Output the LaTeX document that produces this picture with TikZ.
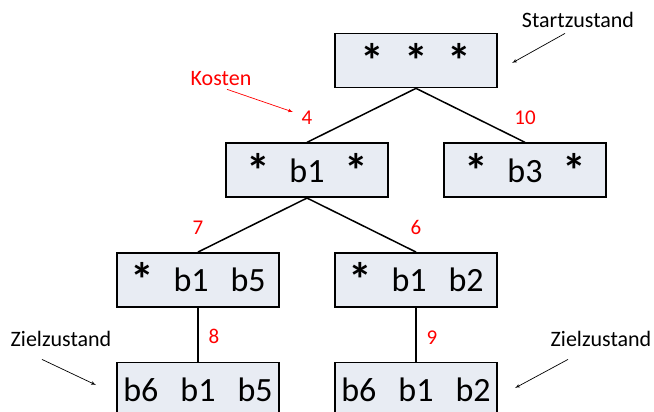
\documentclass[tikz,border=0pt]{standalone}
\usepackage{fontspec}
\setmainfont{Carlito}
\usetikzlibrary{arrows}
\usetikzlibrary{positioning}
\definecolor{boxfill}{RGB}{232,236,243}
\newcommand{\wild}{\raisebox{-5pt}{\scalebox{1.4}{\bfseries *}}}

\begin{document}
\begin{tikzpicture}[x=1pt, y=-1pt, >=latex']
	\tikzstyle{state}=[rectangle, draw=black, fill=boxfill, line width=1.7pt, minimum width=162pt, minimum height=54pt, inner sep=0pt, font=\fontsize{34}{40}\selectfont, node distance=54pt]
	\tikzstyle{connect}=[line width=1.5pt]
	\tikzstyle{cost}=[text=red, inner sep=0pt, font=\fontsize{21}{24}\selectfont, node distance=17.5pt]
	\tikzstyle{note}=[font=\fontsize{22}{26}\selectfont, inner sep=3pt]
	\tikzstyle{pointer}=[->, line width=0.7pt]
	\useasboundingbox (0,0) rectangle (654,412);
	\clip (0,0) rectangle (654,412);
	% search tree
	\node[state] (root) at (416,60.5) {\vphantom{b}\wild\hspace{20pt}\wild\hspace{20pt}\wild};
	\node[state] (b1) [below =of root, xshift=-109pt] {\wild\hspace{19.5pt}b1\hspace{19.5pt}\wild};
	\node[state] (b3) [below =of root, xshift=109pt] {\wild\hspace{19.5pt}b3\hspace{19.5pt}\wild};
	\node[state] (b1b5) [below =of b1, xshift=-109pt] {\wild\hspace{19.5pt}b1\hspace{22pt}b5};
	\node[state] (b1b2) [below =of b1, xshift=109pt] {\wild\hspace{19.5pt}b1\hspace{22pt}b2};
	\node[state] (goal1) [below =of b1b5] {b6\hspace{22pt}b1\hspace{22pt}b5};
	\node[state] (goal2) [below =of b1b2] {b6\hspace{22pt}b1\hspace{22pt}b2};
	% costs
	\node[cost] (c4) [above =of b1] {4};
	\node[cost] (c10) [above =of b3] {10};
	\node[cost] (c7) [above =of b1b5] {7};
	\node[cost] (c6) [above =of b1b2] {6};
	\node[cost] (c8) [above =of goal1, xshift=16pt] {8};
	\node[cost] (c9) [above =of goal2, xshift=16pt] {9};
	\path
	(root.south) edge [connect] (b1.north)
	(root.south) edge [connect] (b3.north)
	(b1.south) edge [connect] (b1b5.north)
	(b1.south) edge [connect] (b1b2.north)
	(b1b5.south) edge [connect] (goal1.north)
	(b1b2.south) edge [connect] (goal2.north)
	;
	% annotations
	\node[note, text=red] (kosten) at (221,79) {Kosten};
	\node[note] (start) at (578,19.5) {Startzustand};
	\node[note] (zleft) at (61,339) {Zielzustand};
	\node[note] (zright) at (601,339) {Zielzustand};
	\coordinate (kosten tip) at (293,112);
	\coordinate (start tip) at (512,63);
	\coordinate (zleft tip) at (96,385);
	\coordinate (zright tip) at (515,388);
	\draw[pointer, red] ([xshift=6pt]kosten.south) -- (kosten tip);
	\draw[pointer] ([xshift=-13pt, yshift=-3pt]start.south) -- (start tip);
	\draw[pointer] ([xshift=-19pt, yshift=-9.5pt]zleft.south) -- (zleft tip);
	\draw[pointer] ([xshift=-33pt, yshift=-9.5pt]zright.south) -- (zright tip);
\end{tikzpicture}
\end{document}
